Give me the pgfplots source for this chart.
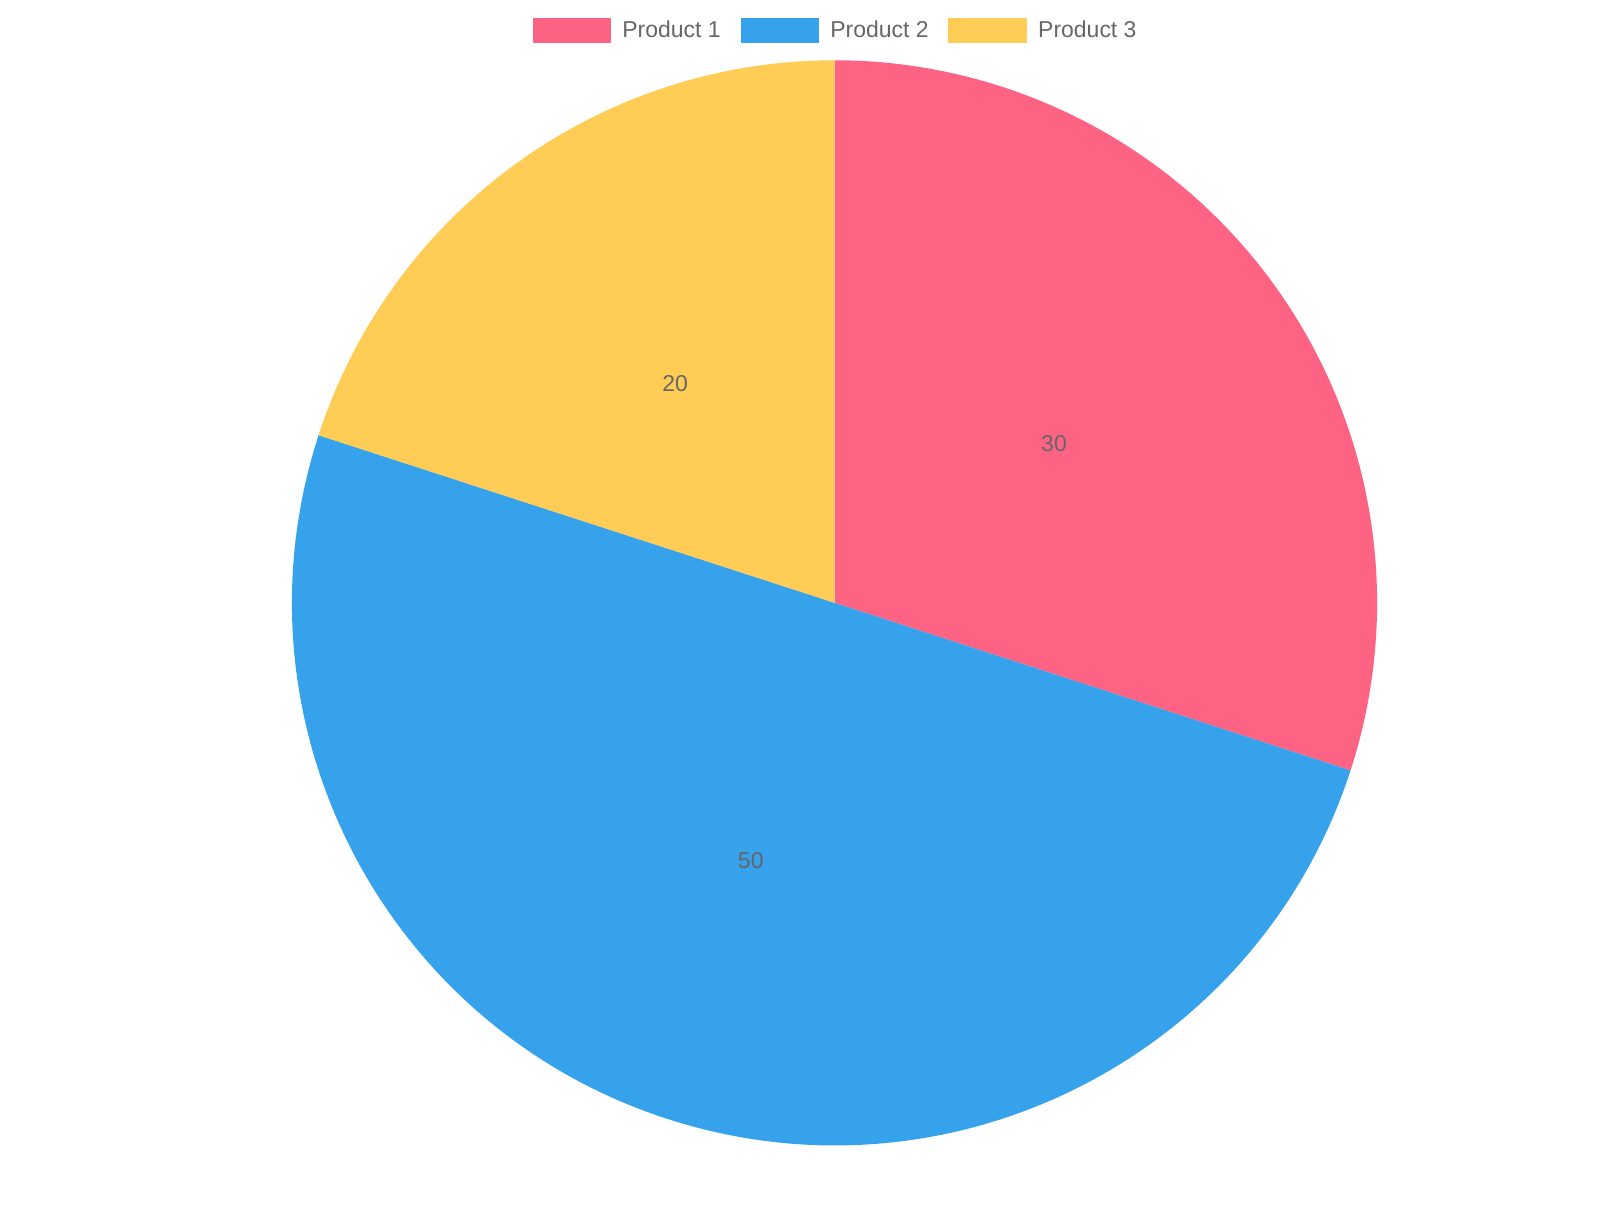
\documentclass[border=0pt]{standalone}
\usepackage{fontspec}
\setmainfont{Liberation Sans}
\usepackage{pgfplots}
\usepackage{pgfplotstable}
\pgfplotsset{compat=1.18}

\definecolor{pone}{HTML}{FF6384}
\definecolor{ptwo}{HTML}{36A2EB}
\definecolor{pthree}{HTML}{FFCD56}
\definecolor{txt}{HTML}{666666}

% slice values, clockwise from 12 o'clock
\pgfplotstableread{
value
30
50
20
}\piedata

\begin{document}
\pgfplotstablegetelem{0}{value}\of\piedata \let\vA\pgfplotsretval
\pgfplotstablegetelem{1}{value}\of\piedata \let\vB\pgfplotsretval
\pgfplotstablegetelem{2}{value}\of\piedata \let\vC\pgfplotsretval
\pgfmathsetmacro\tot{\vA+\vB+\vC}
\pgfmathsetmacro\aA{90}
\pgfmathsetmacro\aB{\aA-\vA/\tot*360}
\pgfmathsetmacro\aC{\aB-\vB/\tot*360}
\pgfmathsetmacro\aD{\aC-\vC/\tot*360}
% centre and radius in axis units (1 unit = 0.5pt)
\def\cx{800}\def\cy{570}\def\R{567}
\def\Rpt{283.5pt}
% label positions, half way out on the middle of each slice
\pgfmathsetmacro\xA{\cx+0.5*\R*cos((\aA+\aB)/2)}
\pgfmathsetmacro\yA{\cy+0.5*\R*sin((\aA+\aB)/2)}
\pgfmathsetmacro\xB{\cx+0.5*\R*cos((\aB+\aC)/2)}
\pgfmathsetmacro\yB{\cy+0.5*\R*sin((\aB+\aC)/2)}
\pgfmathsetmacro\xC{\cx+0.5*\R*cos((\aC+\aD)/2)}
\pgfmathsetmacro\yC{\cy+0.5*\R*sin((\aC+\aD)/2)}
\begin{tikzpicture}
\begin{axis}[
scale only axis, width=800pt, height=600pt,
xmin=0, xmax=1600, ymin=0, ymax=1200,
hide axis, clip=false,
legend columns=3,
legend image code/.code={\fill[#1] (0pt,-6.4pt) rectangle (41pt,6.4pt);},
legend style={draw=none, fill=none, inner sep=0pt, outer sep=0pt,
  at={(axis cs:800,1168)}, anchor=center,
  font=\fontsize{12}{14}\selectfont, text=txt,
  nodes={inner sep=0pt},
  /tikz/every odd column/.append style={column sep=5.9pt},
  /tikz/every even column/.append style={column sep=10.4pt}},
]
\path (rel axis cs:0,0) rectangle (rel axis cs:1,1);
\fill[pone] (axis cs:\cx,\cy) -- ++(\aA:\Rpt) arc[start angle=\aA, end angle=\aB, radius=\Rpt] -- cycle;
\fill[ptwo] (axis cs:\cx,\cy) -- ++(\aB:\Rpt) arc[start angle=\aB, end angle=\aC, radius=\Rpt] -- cycle;
\fill[pthree] (axis cs:\cx,\cy) -- ++(\aC:\Rpt) arc[start angle=\aC, end angle=\aD, radius=\Rpt] -- cycle;
\node[text=txt, font=\fontsize{12}{14}\selectfont] at (axis cs:\xA,\yA) {\vA};
\node[text=txt, font=\fontsize{12}{14}\selectfont] at (axis cs:\xB,\yB) {\vB};
\node[text=txt, font=\fontsize{12}{14}\selectfont] at (axis cs:\xC,\yC) {\vC};
\addlegendimage{fill=pone, draw=none}
\addlegendentry{Product 1}
\addlegendimage{fill=ptwo, draw=none}
\addlegendentry{Product 2}
\addlegendimage{fill=pthree, draw=none}
\addlegendentry{Product 3}
\end{axis}
\end{tikzpicture}
\end{document}
